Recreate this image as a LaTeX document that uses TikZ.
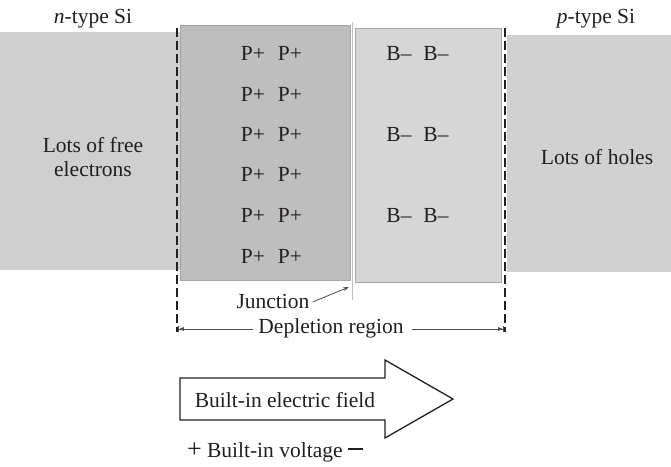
\documentclass[tikz,border=0pt]{standalone}
\usepackage{fontspec}
\setmainfont{Liberation Serif}
\usetikzlibrary{arrows.meta}
\definecolor{nband}{RGB}{207,207,207}
\definecolor{pband}{RGB}{209,209,209}
\definecolor{dbox}{RGB}{190,190,190}
\definecolor{lbox}{RGB}{214,214,214}
\definecolor{ink}{RGB}{35,31,32}
\begin{document}
\begin{tikzpicture}[x=1pt,y=-1pt,
  lbl/.style={font=\fontsize{21.5}{24}\selectfont, text=ink, inner sep=0pt, align=center},
  boundary/.style={line width=2.4pt, draw=ink, dash pattern=on 9pt off 4pt},
  thinline/.style={draw=black!70, line width=0.8pt}]
\useasboundingbox (0,0) rectangle (671,466);
\fill[white] (0,0) rectangle (671,466);
% semiconductor bands
\fill[nband] (0,32) rectangle (180,270);
\fill[pband] (507,35) rectangle (671,272);
% depletion boxes
\draw[fill=dbox, draw=black!35, line width=1pt] (180,25) rectangle (350,280);
\draw[fill=lbox, draw=black!35, line width=1pt] (355,28) rectangle (501,282);
% junction line
\coordinate (jtop) at (352.5,22);
\coordinate (jbot) at (352.5,300);
\draw[draw=black!25, line width=0.8pt] (jtop) -- (jbot);
% depletion boundaries
\coordinate (lt) at (177,28);
\coordinate (lb) at (177,332);
\coordinate (rt) at (505,28);
\coordinate (rb) at (505,332);
\draw[boundary] (lt) -- (lb);
\draw[boundary] (rt) -- (rb);
% top labels
\node[lbl] (ntype) at (93,19) {\textit{n}-type Si};
\node[lbl] (ptype) at (596,19) {\textit{p}-type Si};
\node[lbl] (free) at (93,157) {Lots of free\\electrons};
\node[lbl] (holes) at (597,157) {Lots of holes};
% P+ ions
\foreach \y [count=\i] in {53,94,134,174,215,256}{
  \node[lbl] (pa\i) at (253,\y) {P+};
  \node[lbl] (pb\i) at (290,\y) {P+};
}
% B- ions
\foreach \y [count=\i] in {53,134,215}{
  \node[lbl] (ba\i) at (399,\y) {B–};
  \node[lbl] (bb\i) at (436,\y) {B–};
}
% junction label
\node[lbl] (junc) at (273,301) {Junction};
\coordinate (jtip) at (349,287);
\draw[thinline, -{Stealth[length=6pt,width=4pt]}] ([xshift=3pt,yshift=-1pt]junc.east) -- (jtip);
% depletion region
\node[lbl] (dep) at (331,328) {Depletion region};
\coordinate (dl) at (178,329);
\coordinate (dr) at (504,329);
\draw[thinline, {Bar[width=6pt]Latex[length=5pt,width=4pt]}-] (dl) -- ([xshift=-5pt]dep.west |- dl);
\draw[thinline, -{Latex[length=5pt,width=4pt]Bar[width=6pt]}] ([xshift=8pt]dep.east |- dr) -- (dr);
% built-in field arrow
\draw[fill=white, draw=ink, line width=1.3pt]
  (180,378) -- (385,378) -- (385,360) -- (453,399) -- (385,438) -- (385,420) -- (180,420) -- cycle;
\node[lbl] (field) at (285,400) {Built-in electric field};
% built-in voltage
\node[lbl] (volt) at (275,452) {{\fontsize{26}{26}\selectfont +} Built-in voltage \rule[7pt]{15pt}{1.7pt}};
\end{tikzpicture}
\end{document}
